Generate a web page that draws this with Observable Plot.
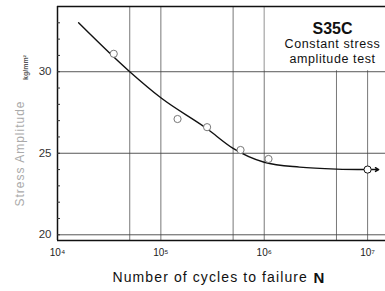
<!DOCTYPE html>
<html><head><meta charset="utf-8">
<script src="https://cdn.jsdelivr.net/npm/d3@7"></script>
<script src="https://cdn.jsdelivr.net/npm/@observablehq/plot@0.6"></script>
<style>body{margin:0;background:#fff} #chart svg{display:block}</style>
</head><body><div id="chart"></div>
<script>
// S-N curve (smooth fit)
const curveCycles = [1.6e4, 5e4, 1e5, 2.8e5, 5e5, 1e6, 2.2e6, 5e6, 1e7];
const curveStress = [33.0, 30.0, 28.4, 26.5, 25.3, 24.45, 24.15, 24.03, 24.0];
// test results (open circles)
const testCycles = [3.5e4, 1.45e5, 2.8e5, 5.9e5, 1.1e6, 1e7];
const testStress = [31.1, 27.1, 26.6, 25.2, 24.65, 24.0];
const testStatus = ["failed", "failed", "failed", "failed", "failed", "runout"];
const runoutArrowTo = 1.28e7;
// grid and ticks
const xGrid = [5e4, 1e5, 5e5, 1e6, 5e6, 1e7];
const yGrid = [20, 25, 30];
const yMinor = [20, 21, 22, 23, 24, 25, 26, 27, 28, 29, 30, 31, 32, 33];
const xTickValues = [1e4, 1e5, 1e6, 1e7];
const xTickLabels = ["10⁴", "10⁵", "10⁶", "10⁷"];
const xDomain = [1e4, 1.49e7];
const yDomain = [19.65, 34.0];
const titleText = "S35C";
const subtitleLines = ["Constant stress", "amplitude test"];
const xLabel = "Number of cycles to failure";
const xLabelSymbol = "N";
const yLabel = "Stress Amplitude";
const yUnit = "kg/mm²";

const curve = curveCycles.map((n, i) => ({n, s: curveStress[i]}));
const tests = testCycles.map((n, i) => ({n, s: testStress[i], status: testStatus[i]}));
const runout = tests.filter(d => d.status === "runout").map(d => ({x1: d.n, x2: runoutArrowTo, y: d.s}));
const titleBox = [{x1: 1e6, x2: xDomain[1], y1: 30, y2: yDomain[1]}];

const W = 385, ML = 57, MR = 0;
const font = "'Liberation Sans', Arial, sans-serif";

const chart = Plot.plot({
  width: W, height: 291,
  marginLeft: ML, marginRight: MR, marginTop: 6, marginBottom: 51,
  x: {type: "log", domain: xDomain},
  y: {domain: yDomain},
  style: {fontFamily: font, background: "white", color: "#222"},
  marks: [
    Plot.ruleX(xGrid, {stroke: "#555", strokeWidth: 0.8}),
    Plot.ruleY(yGrid, {stroke: "#444", strokeWidth: 0.9}),
    Plot.rect(titleBox, {x1: "x1", x2: "x2", y1: "y1", y2: "y2", fill: "white", insetLeft: 1, insetBottom: 1, insetTop: 1}),
    Plot.ruleX([xDomain[0]], {stroke: "#111", strokeWidth: 1.5}),
    Plot.ruleY(yDomain, {stroke: "#111", strokeWidth: 1.5}),
    Plot.tickY(yMinor, {y: d => d, stroke: "#333", insetRight: W - ML - MR - 3}),
    Plot.line(curve, {x: "n", y: "s", curve: "monotone-x", stroke: "#111", strokeWidth: 1.4}),
    Plot.arrow(runout, {x1: "x1", x2: "x2", y1: "y", y2: "y", headLength: 5, insetStart: 4, stroke: "#111", strokeWidth: 1.4}),
    Plot.dot(tests.filter(d => d.status === "failed"), {x: "n", y: "s", r: 3.6, fill: "white", stroke: "#777", strokeWidth: 1}),
    Plot.dot(tests.filter(d => d.status === "runout"), {x: "n", y: "s", r: 3.6, fill: "white", stroke: "#111", strokeWidth: 1}),
    Plot.axisY({ticks: yGrid, tickSize: 0, tickPadding: 6, fontSize: 11.5, label: null, fill: "#333"}),
    Plot.axisX({ticks: xTickValues, tickSize: 0, tickPadding: 8, fontSize: 10, label: null, fill: "#222",
      tickFormat: d => xTickLabels[xTickValues.indexOf(d)]}),
    Plot.text([titleText], {frameAnchor: "top-right", textAnchor: "middle", dx: -53, dy: 27, lineAnchor: "bottom", fontSize: 16, fontWeight: 600, fill: "#111"}),
    Plot.text([subtitleLines[0]], {frameAnchor: "top-right", textAnchor: "middle", dx: -53, dy: 41, lineAnchor: "bottom", fontSize: 12.5, fill: "#111"}),
    Plot.text([subtitleLines[1]], {frameAnchor: "top-right", textAnchor: "middle", dx: -53, dy: 56, lineAnchor: "bottom", fontSize: 12.5, fill: "#111"}),
    Plot.text([xLabel], {frameAnchor: "bottom", textAnchor: "start", dx: -109, dy: 41, lineAnchor: "bottom", fontSize: 14, fill: "#111"}),
    Plot.text([xLabelSymbol], {frameAnchor: "bottom", textAnchor: "start", dx: 92, dy: 42, lineAnchor: "bottom", fontSize: 15, fontWeight: "bold", fill: "#111"}),
    Plot.text([yLabel], {frameAnchor: "left", textAnchor: "middle", rotate: -90, dx: -37, dy: 30, fontSize: 12, fill: "#aaa"}),
    Plot.text([yUnit], {frameAnchor: "left", textAnchor: "middle", rotate: -90, dx: -32, dy: -56, fontSize: 7, fontWeight: "bold", fill: "#555"})
  ]
});
const spacing = new Map([[xLabel, 1.1], [yLabel, 1], [subtitleLines[0], 0.6], [subtitleLines[1], 0.6]]);
d3.select(chart).selectAll("text").each(function () {
  const s = spacing.get(this.textContent);
  if (s != null) this.setAttribute("letter-spacing", s);
});
document.getElementById("chart").appendChild(chart);
</script>
</body></html>
